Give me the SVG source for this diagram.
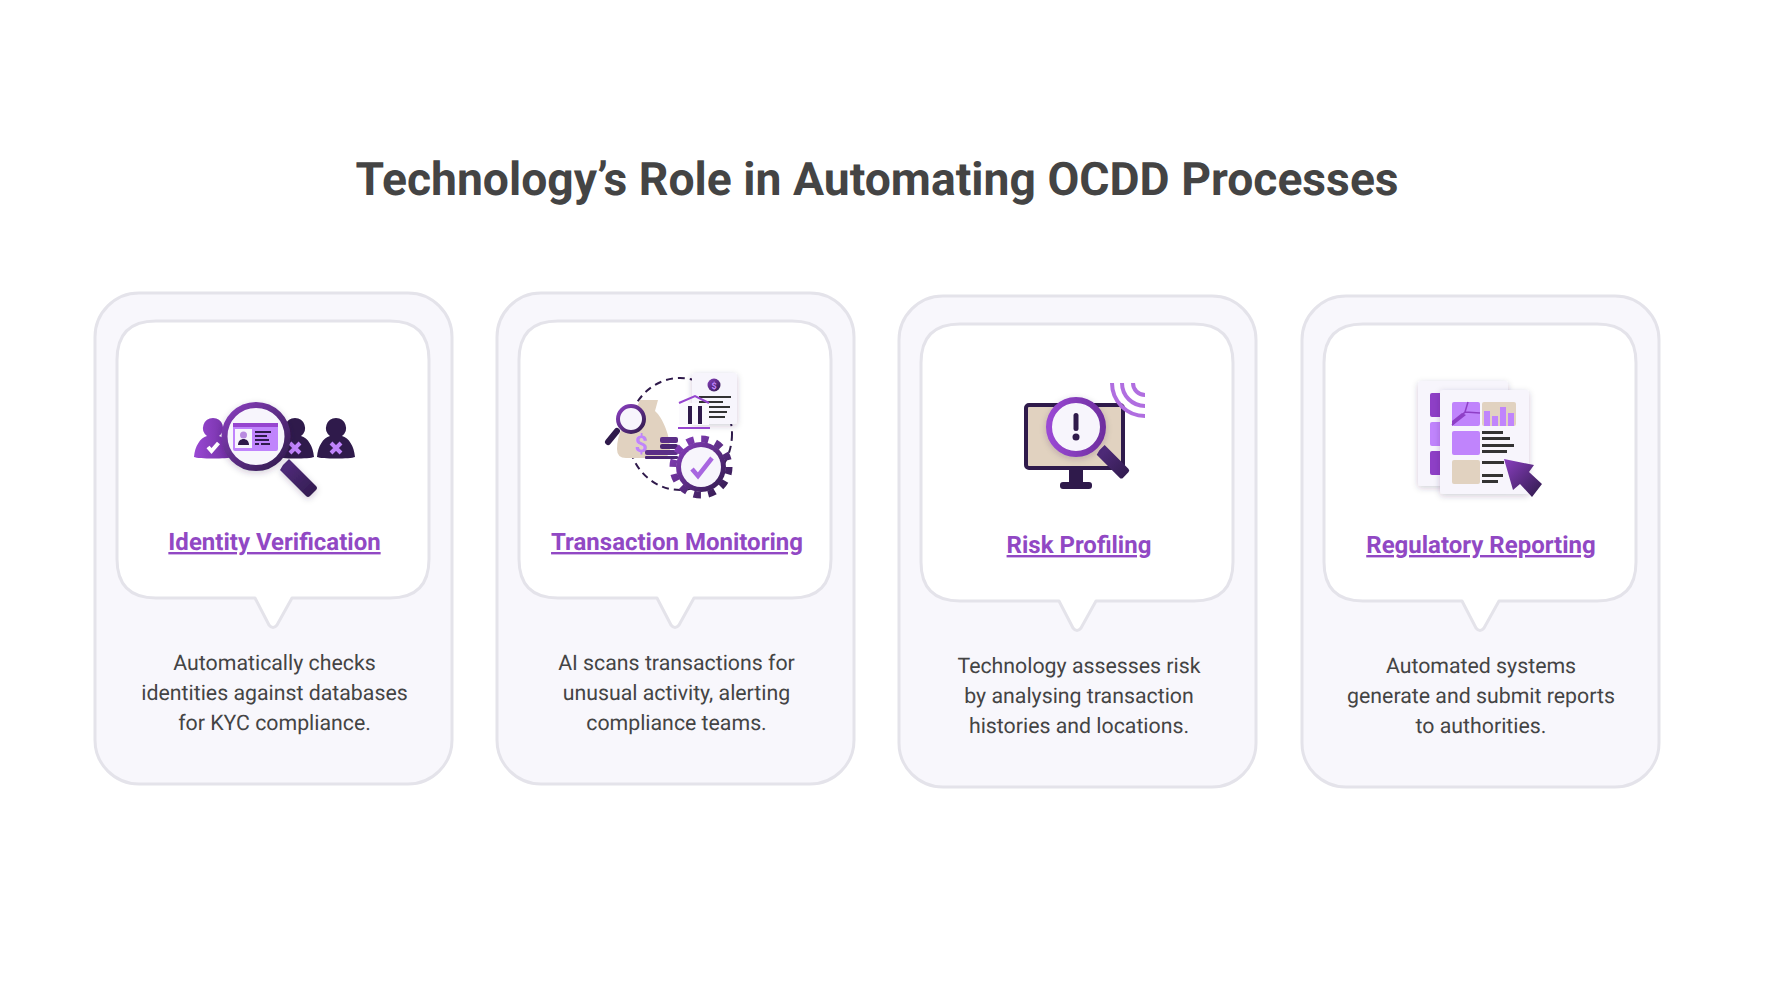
<svg xmlns="http://www.w3.org/2000/svg" width="1776" height="984" viewBox="0 0 1776 984">
<style>
text{font-family:Roboto,"Liberation Sans",sans-serif;text-rendering:geometricPrecision}
.title{font-size:46.250px;font-weight:700;fill:#444;text-anchor:middle}
.head{font-size:24px;font-weight:700;fill:#9148c4;text-anchor:middle;text-decoration:underline}
.body{font-size:21.300px;fill:#444;text-anchor:middle}
.outer{fill:#f8f7fc;stroke:#e4e3ea;stroke-width:3}
.bubble{fill:#fff;stroke:#e4e3ea;stroke-width:3;stroke-linejoin:round}
.dark{fill:#2f1a4b}
.mid{fill:#c084fc}
.tan{fill:#e1d2c0}
.pale{fill:#f7f5fc}
.ink{fill:#333}
</style>
<defs>
<linearGradient id="gp" x1="0" y1="0" x2="1" y2="1"><stop offset="0" stop-color="#8a3fc0"/><stop offset="1" stop-color="#2f1a4b"/></linearGradient>
<linearGradient id="gh" gradientUnits="userSpaceOnUse" x1="0" y1="0" x2="30" y2="30"><stop offset="0" stop-color="#4e2a78"/><stop offset="1" stop-color="#2f1a4b"/></linearGradient>
<linearGradient id="gl" x1="0" y1="0" x2="1" y2="0"><stop offset="0" stop-color="#9a48d4"/><stop offset="1" stop-color="#6f2fa0"/></linearGradient>
<filter id="sh" x="-30%" y="-30%" width="160%" height="160%"><feDropShadow dx="0" dy="2" stdDeviation="3" flood-color="#2f1a4b" flood-opacity=".22"/></filter>
<path id="bub" d="M156 321H390Q429 321 429 360V559Q429 598 390 598H292L277 625Q273 630 269 625L255 598H156Q117 598 117 559V360Q117 321 156 321Z"/>
<path id="person" d="M0-10a10 10 0 0 1 6 18c7 2 12 10 13 21-4 2-34 2-38 0 1-11 6-19 13-21a10 10 0 0 1 6-18Z"/>
<path id="handle" d="M-3-3 3-9 30 18Q32 20 30 22L24 28Q22 30 20 28L-6 2Z"/>
<g id="xmark"><path d="M-5-5 5 5M5-5-5 5" stroke="#c084fc" stroke-width="4" fill="none"/></g>
</defs>
<rect width="1776" height="984" fill="#fff"/>
<text class="title" x="877" y="195">Technology’s Role in Automating OCDD Processes</text>

<g id="card-identity">
<rect class="outer" x="95" y="293" width="357" height="491" rx="44"/>
<use href="#bub" class="bubble"/>
<g id="icon-identity">
<use href="#person" x="213" y="428" fill="url(#gl)"/>
<path d="M208 447l3.500 4 7-8" fill="none" stroke="#fff" stroke-width="4"/>
<use href="#person" x="295" y="428" class="dark"/><use href="#xmark" x="295" y="448"/>
<use href="#person" x="336" y="428" class="dark"/><use href="#xmark" x="336" y="448"/>
<use href="#handle" x="286" y="468" fill="url(#gh)" filter="url(#sh)"/>
<circle cx="256" cy="436.500" r="31.500" fill="#f7f5fc" stroke="url(#gp)" stroke-width="6" filter="url(#sh)"/>
<rect x="233" y="423" width="45" height="28" rx="2" class="mid"/>
<rect x="233" y="423" width="45" height="4" fill="#9645cf"/>
<rect x="235" y="429" width="17" height="19" fill="#f7f5fc"/>
<circle cx="243.500" cy="435" r="3.500" fill="#b98ae0"/><path d="M238 445c0-8 11-8 11 0Z" class="dark"/>
<path d="M255 431h16v2h-16zM255 435h12v2h-12zM255 439h14v2h-14zM255 443h4v2h-4zM261 443h9v2h-9z" class="dark"/>
</g>
<text class="head" x="274.500" y="550">Identity Verification</text>
<text class="body" x="274.500" y="670">Automatically checks</text>
<text class="body" x="274.500" y="700">identities against databases</text>
<text class="body" x="274.500" y="730">for KYC compliance.</text>
</g>

<g id="card-transaction">
<rect class="outer" x="497" y="293" width="357" height="491" rx="44"/>
<use href="#bub" x="402" class="bubble"/>
<g id="icon-transaction">
<ellipse cx="680" cy="434" rx="52" ry="56" fill="none" stroke="#2f1a4b" stroke-width="2" stroke-dasharray="7 5"/>
<path d="M640 400h18l-3 11c8 7 15 25 15 38q0 9-10 9h-34q-9 0-9-9c0-15 8-30 18-38Z" class="tan"/>
<rect x="692" y="373" width="45" height="51" rx="3" class="pale" filter="url(#sh)"/>
<circle cx="714" cy="385" r="6.500" fill="url(#gp)"/>
<text x="714" y="388.500" text-anchor="middle" font-size="9" font-weight="700" fill="#c084fc">$</text>
<path d="M699 396h32v2h-32zM699 401h24v2h-24zM707 406h23v2h-23zM707 411h20v2h-20zM707 416h18v2h-18z" class="ink"/>
<rect x="679" y="403" width="30" height="22" fill="#fbfafd"/>
<path d="M679 403 695 396 709 403" fill="none" stroke="#9645cf" stroke-width="2"/>
<path d="M688 406h4v18h-4zM698 406h4v18h-4z" class="dark"/>
<rect x="678" y="427" width="32" height="2" fill="#9645cf"/>
<path d="M608 442 617 431" stroke="#2f1a4b" stroke-width="6" stroke-linecap="round"/>
<circle cx="631" cy="419" r="13" fill="#f7f5fc" stroke="url(#gp)" stroke-width="4"/>
<text x="641" y="452" text-anchor="middle" font-size="23" font-weight="700" fill="#c084fc">$</text>
<rect x="660" y="437" width="18" height="6" rx="2" fill="#5b2e87"/>
<rect x="660" y="444" width="18" height="5" rx="2" fill="#4a2673"/>
<rect x="645" y="450" width="33" height="5" rx="2" fill="#5b2e87"/>
<rect x="645" y="456" width="33" height="3" rx="1" fill="#4a2673"/>
<circle cx="701" cy="467" r="25" fill="url(#gp)"/>
<circle cx="701" cy="467" r="28" fill="none" stroke="url(#gp)" stroke-width="7" stroke-dasharray="7.330 7.330"/>
<circle cx="701" cy="467" r="20" class="pale"/>
<path d="M692 469l6 7 14-18" fill="none" stroke="#a866e0" stroke-width="4.500"/>
</g>
<text class="head" x="677" y="550">Transaction Monitoring</text>
<text class="body" x="676.500" y="670">AI scans transactions for</text>
<text class="body" x="676.500" y="700">unusual activity, alerting</text>
<text class="body" x="676.500" y="730">compliance teams.</text>
</g>

<g id="card-risk">
<rect class="outer" x="899" y="296" width="357" height="491" rx="44"/>
<use href="#bub" x="804" y="3" class="bubble"/>
<g id="icon-risk">
<rect x="1026" y="405" width="97" height="63" rx="3" class="tan" stroke="#2f1a4b" stroke-width="4"/>
<rect x="1069" y="469" width="14" height="14" class="dark"/>
<rect x="1060" y="482" width="32" height="7" rx="3" class="dark"/>
<use href="#handle" x="1102" y="453" fill="url(#gh)" transform="translate(1102 453) scale(.88) translate(-1102 -453)"/>
<circle cx="1076" cy="427" r="27" fill="#f7f5fc" stroke="url(#gl)" stroke-width="6" filter="url(#sh)"/>
<rect x="1073.500" y="413" width="5" height="18" rx="2.500" class="dark"/>
<circle cx="1076" cy="437" r="3.500" class="dark"/>
<path d="M1112 383A33 33 0 0 0 1145 416M1122 383A23 23 0 0 0 1145 406M1133 383A12 12 0 0 0 1145 395" fill="none" stroke="#b06ee0" stroke-width="4"/>
</g>
<text class="head" x="1079" y="553">Risk Profiling</text>
<text class="body" x="1079" y="673">Technology assesses risk</text>
<text class="body" x="1079" y="703">by analysing transaction</text>
<text class="body" x="1079" y="733">histories and locations.</text>
</g>

<g id="card-reporting">
<rect class="outer" x="1302" y="296" width="357" height="491" rx="44"/>
<use href="#bub" x="1207" y="3" class="bubble"/>
<g id="icon-reporting">
<rect x="1418" y="381" width="90" height="105" rx="3" class="pale" filter="url(#sh)"/>
<rect x="1430" y="393" width="14" height="24" rx="2" fill="#8e3fc6"/>
<rect x="1430" y="422" width="14" height="24" rx="2" class="mid"/>
<rect x="1430" y="451" width="14" height="24" rx="2" fill="#8e3fc6"/>
<rect x="1440" y="390" width="89" height="104" rx="3" class="pale" filter="url(#sh)"/>
<rect x="1452" y="402" width="28" height="24" rx="2" class="mid"/>
<path d="M1468 402 1465 412 1452 425M1465 412 1480 413" stroke="#8e3fc6" stroke-width="1.500" fill="none"/>
<path d="M1452 426V421L1462 413 1466 415Z" fill="#8e3fc6"/>
<rect x="1482" y="402" width="34" height="24" rx="2" class="tan"/>
<path d="M1484 411h6v15h-6zM1492 416h6v10h-6zM1500 407h6v19h-6zM1508 413h6v13h-6z" class="mid"/>
<rect x="1452" y="431" width="28" height="24" rx="2" class="mid"/>
<rect x="1452" y="460" width="28" height="24" rx="2" class="tan"/>
<path d="M1482 431h21v3h-21zM1482 437h28v3h-28zM1482 444h32v3h-32zM1482 450h25v3h-25zM1482 461h22v3h-22zM1482 474h21v3h-21zM1482 480h16v3h-16z" class="ink"/>
<path d="M1504 459 1534 465 1529 472 1542 484 1532 497 1520 484 1513 490Z" fill="url(#gp)"/>
</g>
<text class="head" x="1481" y="553">Regulatory Reporting</text>
<text class="body" x="1481" y="673">Automated systems</text>
<text class="body" x="1481" y="703">generate and submit reports</text>
<text class="body" x="1481" y="733">to authorities.</text>
</g>
</svg>
